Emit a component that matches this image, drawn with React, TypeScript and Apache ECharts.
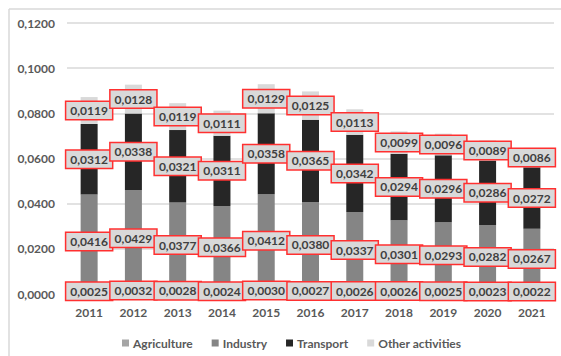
import React, { useEffect, useRef } from "react";
import * as echarts from "echarts";

const years = ["2011", "2012", "2013", "2014", "2015", "2016", "2017", "2018", "2019", "2020", "2021"];
const agriculture = [0.0025, 0.0032, 0.0028, 0.0024, 0.003, 0.0027, 0.0026, 0.0026, 0.0025, 0.0023, 0.0022];
const industry = [0.0416, 0.0429, 0.0377, 0.0366, 0.0412, 0.038, 0.0337, 0.0301, 0.0293, 0.0282, 0.0267];
const transport = [0.0312, 0.0338, 0.0321, 0.0311, 0.0358, 0.0365, 0.0342, 0.0294, 0.0296, 0.0286, 0.0272];
const otherActivities = [0.0119, 0.0128, 0.0119, 0.0111, 0.0129, 0.0125, 0.0113, 0.0099, 0.0096, 0.0089, 0.0086];

const FONT = "Lato";
const TEXT = "#595959";

const fmt = (v: number) => v.toFixed(4).replace(".", ",");

const labelStyle = {
  show: true,
  position: "inside" as const,
  formatter: (p: any) => fmt(p.value),
  fontFamily: FONT,
  fontSize: 12,
  fontWeight: "bold" as const,
  color: "#404040",
  backgroundColor: "#d9d9d9",
  borderColor: "#ff3030",
  borderWidth: 1.5,
  padding: [3, 4, 2, 4],
};

const makeSeries = (name: string, data: number[], color: string) => ({
  name,
  type: "bar" as const,
  stack: "total",
  data,
  barWidth: 17,
  itemStyle: { color },
  label: labelStyle,
  emphasis: { disabled: true },
});

export default function App() {
  const ref = useRef<HTMLDivElement>(null);

  useEffect(() => {
    if (!ref.current) return;
    const chart = echarts.init(ref.current, undefined, { renderer: "svg" });
    chart.setOption({
      animation: false,
      backgroundColor: "#ffffff",
      textStyle: { fontFamily: FONT },
      grid: { left: 67, right: 7, top: 23, bottom: 62, containLabel: false },
      legend: {
        left: 117,
        top: 332,
        itemWidth: 7,
        itemHeight: 7,
        itemGap: 19,
        icon: "rect",
        textStyle: { fontFamily: FONT, fontSize: 12, fontWeight: "bold", color: TEXT, padding: [0, 0, 0, -1] },
        data: ["Agriculture", "Industry", "Transport", "Other activities"],
      },
      xAxis: {
        type: "category",
        data: years,
        axisLine: { show: true, lineStyle: { color: "#d9d9d9" } },
        axisTick: { show: false },
        axisLabel: { fontFamily: FONT, fontSize: 12, fontWeight: "bold", color: TEXT, margin: 12 },
      },
      yAxis: {
        type: "value",
        min: 0,
        max: 0.12,
        interval: 0.02,
        axisLine: { show: false },
        axisTick: { show: false },
        splitLine: { lineStyle: { color: "#d9d9d9", width: 1.5 } },
        axisLabel: {
          fontFamily: FONT,
          fontSize: 12,
          fontWeight: "bold",
          color: TEXT,
          margin: 12,
          formatter: (v: number) => fmt(v),
        },
      },
      graphic: [
        { type: "line", shape: { x1: 9, y1: 9, x2: 561, y2: 9 }, style: { stroke: "#d9d9d9", lineWidth: 1.5 } },
        { type: "line", shape: { x1: 9, y1: 9, x2: 9, y2: 356 }, style: { stroke: "#d9d9d9", lineWidth: 1.5 } },
      ],
      series: [
        makeSeries("Agriculture", agriculture, "#a5a5a5"),
        makeSeries("Industry", industry, "#858585"),
        makeSeries("Transport", transport, "#262626"),
        makeSeries("Other activities", otherActivities, "#d9d9d9"),
      ],
    });
    return () => chart.dispose();
  }, []);

  return (
    <div
      ref={ref}
      style={{ position: "fixed", left: 0, top: 0, width: 561, height: 356 }}
    />
  );
}
